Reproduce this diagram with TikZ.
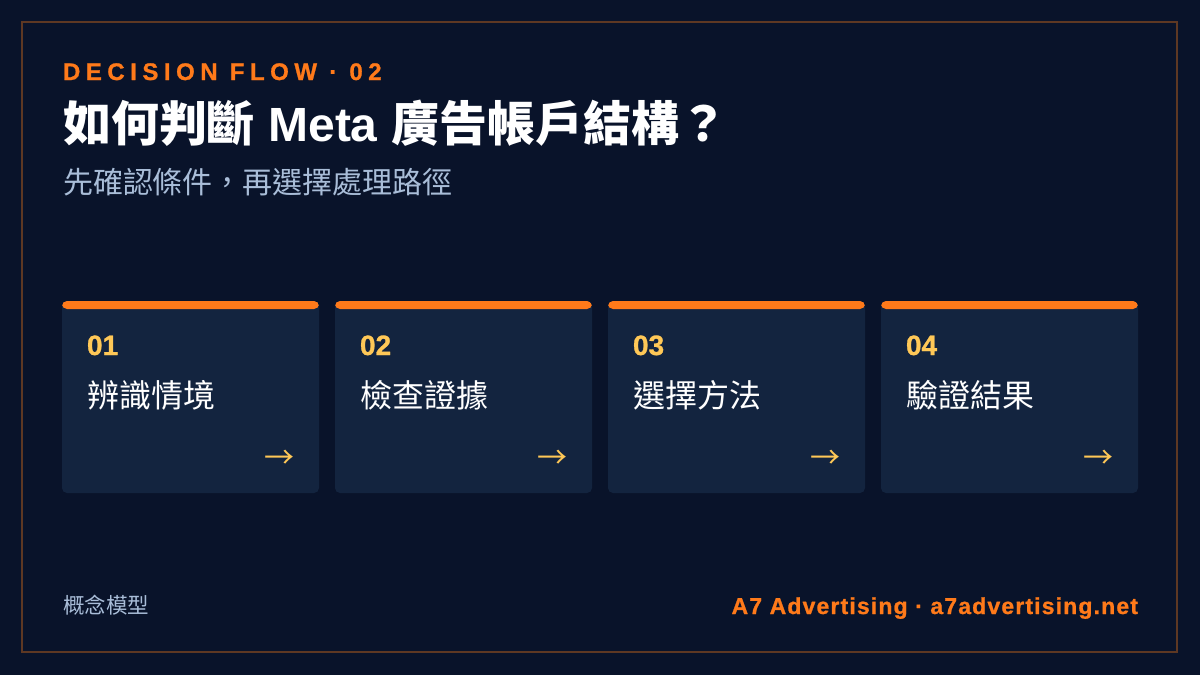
\documentclass[tikz,border=0pt]{standalone}
\usepackage{fontspec}
\setmainfont{Liberation Sans}
\newfontfamily\cjk{Noto Sans CJK TC}
\newfontfamily\cjkb{Noto Sans CJK TC Bold}
\newfontfamily\kickerfont[LetterSpace=23,FakeBold=1]{Liberation Sans Bold}
\newfontfamily\brandfont[LetterSpace=5,FakeBold=1]{Liberation Sans Bold}
\newfontfamily\numfont[FakeBold=1]{Liberation Sans Bold}
\definecolor{bgnavy}{HTML}{09132A}
\definecolor{cardnavy}{HTML}{13243F}
\definecolor{framebrown}{HTML}{5E3823}
\definecolor{accent}{HTML}{FF7A1A}
\definecolor{numgold}{HTML}{FFC857}
\definecolor{subgrey}{HTML}{A9BDD8}

\begin{document}
\begin{tikzpicture}[x=1pt,y=-1pt]
\tikzstyle{every node}=[inner sep=0pt, outer sep=0pt]
\tikzstyle{card}=[fill=cardnavy, rounded corners=5pt, minimum width=257pt, minimum height=192pt, anchor=north west,
  path picture={\fill[accent] (path picture bounding box.north west) rectangle ([yshift=-8pt]path picture bounding box.north east);}]
\tikzstyle{num}=[anchor=base west, text=numgold, font=\numfont\fontsize{28}{32}\selectfont]
\tikzstyle{lab}=[anchor=base west, text=white, font=\cjk\fontsize{32}{36}\selectfont]
\tikzstyle{arr}=[anchor=base east, text=numgold, font=\cjk\fontsize{30}{34}\selectfont]
% page and frame
\fill[bgnavy] (0,0) rectangle (1200,675);
\useasboundingbox (0,0) rectangle (1200,675);
\draw[framebrown, line width=2pt] (22,22) rectangle (1177,652);
% heading
\node (kicker) [anchor=base west, text=accent, font=\kickerfont\fontsize{24}{28}\selectfont] at (63,80) {DECISION FLOW · 02};
\node (title) [anchor=base west, text=white, font=\fontsize{48}{52}\bfseries\selectfont] at (63,141)
  {{\cjkb 如何判斷} Meta {\cjkb 廣告帳戶結構？}};
\node (subtitle) [anchor=base west, text=subgrey, font=\cjk\fontsize{30}{34}\selectfont] at (63,193) {先確認條件，再選擇處理路徑};
% steps
\foreach \n/\lab [count=\i] in {01/辨識情境, 02/檢查證據, 03/選擇方法, 04/驗證結果} {
  \node[card] (card\i) at ({62+273*(\i-1)},301) {};
  \node[num] (num\i) at ([xshift=25pt,yshift=-54pt]card\i.north west) {\n};
  \node[lab] (lab\i) at ([xshift=25pt,yshift=-106pt]card\i.north west) {\lab};
  \node[arr] (arr\i) at ([xshift=-25pt,yshift=-167pt]card\i.north east) {→};
}
% footer
\node (model) [anchor=base west, text=subgrey, font=\cjk\fontsize{21.5}{24}\selectfont] at (63,613) {概念模型};
\node (brand) [anchor=base east, text=accent, font=\brandfont\fontsize{23}{26}\selectfont] at (1138,614) {A7 Advertising · a7advertising.net};
\end{tikzpicture}
\end{document}
